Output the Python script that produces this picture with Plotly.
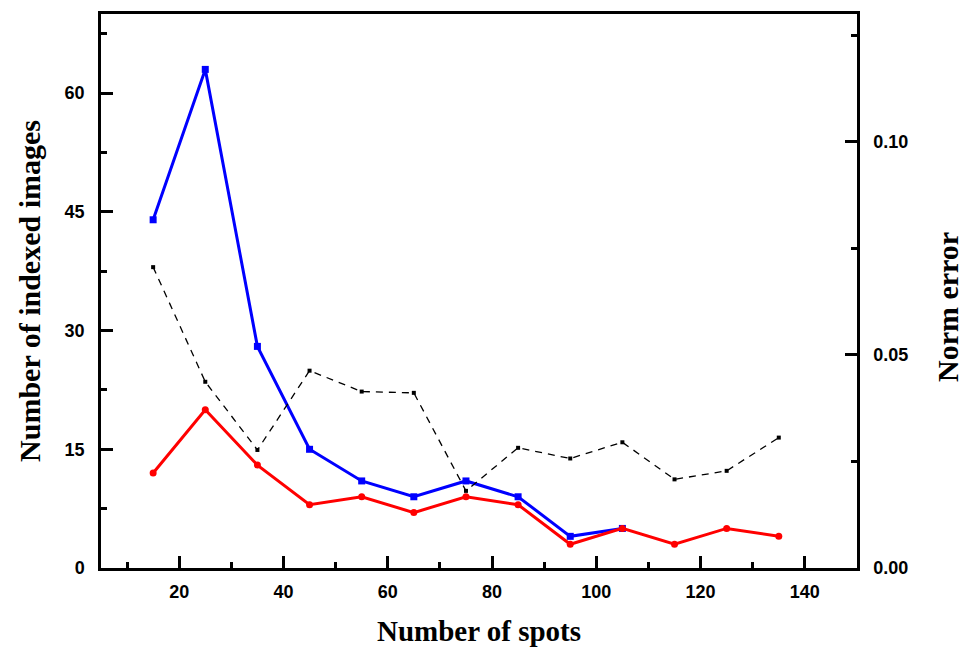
import plotly.graph_objects as go

spots = [15, 25, 35, 45, 55, 65, 75, 85, 95, 105, 115, 125, 135]
indexed_blue = [44, 63, 28, 15, 11, 9, 11, 9, 4, 5]
indexed_red = [12, 20, 13, 8, 9, 7, 9, 8, 3, 5, 3, 5, 4]
norm_error = [0.0706, 0.0437, 0.0277, 0.0463, 0.0414, 0.0411, 0.0181,
              0.0282, 0.0257, 0.0295, 0.0208, 0.0228, 0.0306]

fig = go.Figure()
fig.add_trace(go.Scatter(x=spots, y=norm_error, yaxis="y2", mode="lines+markers",
                         line=dict(color="black", width=1.3, dash="7px,6px"),
                         marker=dict(symbol="square", size=4, color="black"),
                         showlegend=False))
fig.add_trace(go.Scatter(x=spots[:len(indexed_blue)], y=indexed_blue, mode="lines+markers",
                         line=dict(color="#0000ff", width=3),
                         marker=dict(symbol="square", size=7, color="#0000ff"),
                         showlegend=False))
fig.add_trace(go.Scatter(x=spots, y=indexed_red, mode="lines+markers",
                         line=dict(color="#ff0000", width=3),
                         marker=dict(symbol="circle", size=7, color="#ff0000"),
                         showlegend=False))

tickfont = dict(family="Liberation Sans, Arial", size=18, color="black", weight="bold")
titlefont = dict(family="Liberation Serif, Times New Roman", size=30, color="black", weight="bold")

fig.update_layout(
    width=965, height=655,
    margin=dict(l=101, r=108, t=14, b=87),
    paper_bgcolor="white", plot_bgcolor="white",
    xaxis=dict(range=[5, 150], tickvals=[20, 40, 60, 80, 100, 120, 140],
               ticks="inside", ticklen=12, tickwidth=2.5, tickcolor="black",
               minor=dict(tickvals=[10, 30, 50, 70, 90, 110, 130], ticks="inside",
                          ticklen=6, tickwidth=2.5, tickcolor="black"),
               showline=True, linewidth=2.5, linecolor="black", mirror=True,
               showgrid=False, zeroline=False, tickfont=tickfont,
               ticklabelstandoff=6,
               title=dict(text="Number of spots", font=dict(family="Liberation Serif, Times New Roman",
                                                            size=29, color="black", weight="bold"),
                          standoff=20)),
    yaxis=dict(range=[0, 70], tickvals=[0, 15, 30, 45, 60],
               ticks="inside", ticklen=12, tickwidth=2.5, tickcolor="black",
               minor=dict(tickvals=[7.5, 22.5, 37.5, 52.5, 67.5], ticks="inside",
                          ticklen=6, tickwidth=2.5, tickcolor="black"),
               showline=True, linewidth=2.5, linecolor="black",
               showgrid=False, zeroline=False, tickfont=tickfont,
               ticklabelstandoff=10,
               title=dict(text="Number of indexed images", font=titlefont, standoff=16)),
    yaxis2=dict(range=[0, 0.13], tickvals=[0, 0.05, 0.10], ticktext=["0.00", "0.05", "0.10"],
                overlaying="y", side="right",
                ticks="inside", ticklen=12, tickwidth=2.5, tickcolor="black",
                minor=dict(tickvals=[0.025, 0.075, 0.125], ticks="inside",
                           ticklen=6, tickwidth=2.5, tickcolor="black"),
                showline=True, linewidth=2.5, linecolor="black",
                showgrid=False, zeroline=False, tickfont=tickfont,
                ticklabelstandoff=10),
    annotations=[dict(text="Norm error", textangle=-90, xref="paper", yref="paper",
                      x=1.119, y=0.471, xanchor="center", yanchor="middle",
                      showarrow=False, font=titlefont)],
)

fig.write_html("out.html")
